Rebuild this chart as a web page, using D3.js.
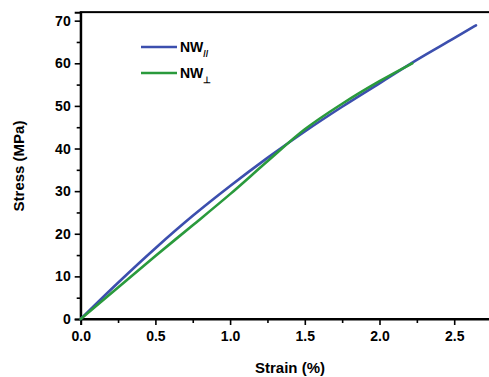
<!DOCTYPE html>
<html><head><meta charset="utf-8">
<script src="https://cdn.jsdelivr.net/npm/d3@7"></script>
<style>body{margin:0;background:#fff;} svg{display:block;}</style>
</head><body>
<svg id="c" width="489" height="377"></svg>
<script>
const xTicks = [0.0, 0.5, 1.0, 1.5, 2.0, 2.5];
const yTicks = [0, 10, 20, 30, 40, 50, 60, 70];
const strainPar = [0, 0.25, 0.5, 0.75, 1.0, 1.25, 1.5, 1.75, 2.0, 2.25, 2.5, 2.646];
const stressPar = [0, 8.5, 16.6, 24.2, 31.2, 37.8, 44.0, 49.8, 55.3, 60.8, 65.9, 68.9];
const strainPerp = [0, 0.25, 0.5, 0.75, 1.0, 1.25, 1.5, 1.75, 2.0, 2.22];
const stressPerp = [0, 7.4, 14.8, 22.0, 29.3, 37.0, 44.5, 50.5, 55.8, 60.0];
const seriesNames = ["NW", "NW"];
const seriesSubs = ["//", "\u22A5"];
const colors = ["#3c4fae", "#2a9a3c"];

const svg = d3.select("#c");
const m = {l: 80.7, t: 12, r: 492, b: 319};
const x = d3.scaleLinear().domain([0, 2.75]).range([m.l, m.l + 2.75 * 149.4]);
const y = d3.scaleLinear().domain([0, 72]).range([m.b, m.b - 72 * 4.262]);
const font = "'Liberation Sans', Arial, sans-serif";

// frame
svg.append("rect").attr("x", m.l).attr("y", y(72)).attr("width", x(2.75) - m.l).attr("height", m.b - y(72))
  .attr("fill", "none").attr("stroke", "#000").attr("stroke-width", 2);

// axes
svg.append("g").attr("transform", `translate(0,${m.b})`)
  .call(d3.axisBottom(x).tickValues(xTicks).tickFormat(d3.format(".1f")).tickSize(6).tickPadding(6));
svg.append("g").attr("transform", `translate(0,${m.b})`)
  .call(d3.axisBottom(x).tickValues([0.25, 0.75, 1.25, 1.75, 2.25, 2.75]).tickFormat("").tickSize(4))
  .select(".domain").remove();
svg.append("g").attr("transform", `translate(${m.l},0)`)
  .call(d3.axisLeft(y).tickValues(yTicks).tickSize(6).tickPadding(4));
svg.append("g").attr("transform", `translate(${m.l},0)`)
  .call(d3.axisLeft(y).tickValues([5, 15, 25, 35, 45, 55, 65]).tickFormat("").tickSize(4))
  .select(".domain").remove();
svg.selectAll(".domain").attr("stroke-width", 2);
svg.selectAll(".tick line").attr("stroke-width", 1.6);
svg.selectAll(".tick text").attr("font-family", font).attr("font-weight", "bold").attr("font-size", 14).attr("fill", "#000");

// lines
const line = d3.line().x(d => x(d[0])).y(d => y(d[1])).curve(d3.curveMonotoneX);
const data = [d3.zip(strainPar, stressPar), d3.zip(strainPerp, stressPerp)];
data.forEach((d, i) => {
  svg.append("path").datum(d).attr("d", line).attr("fill", "none")
    .attr("stroke", colors[i]).attr("stroke-width", 2.6).attr("stroke-linecap", "round");
});

// legend
const leg = svg.append("g");
[47, 73].forEach((ly, i) => {
  leg.append("line").attr("x1", 141).attr("x2", 177).attr("y1", ly).attr("y2", ly)
    .attr("stroke", colors[i]).attr("stroke-width", 2.6);
  const t = leg.append("text").attr("x", 180).attr("y", ly + 5).attr("font-family", font)
    .attr("font-weight", "bold").attr("font-size", 14).attr("fill", "#000");
  t.append("tspan").text(seriesNames[i]);
  t.append("tspan").attr("dy", 5).attr("font-size", 9).text(seriesSubs[i]);
});

// axis titles
svg.append("text").attr("x", 290).attr("y", 373).attr("text-anchor", "middle")
  .attr("font-family", font).attr("font-weight", "bold").attr("font-size", 15).text("Strain (%)");
svg.append("text").attr("transform", "translate(24,166) rotate(-90)").attr("text-anchor", "middle")
  .attr("font-family", font).attr("font-weight", "bold").attr("font-size", 15).text("Stress (MPa)");
</script>
</body></html>
